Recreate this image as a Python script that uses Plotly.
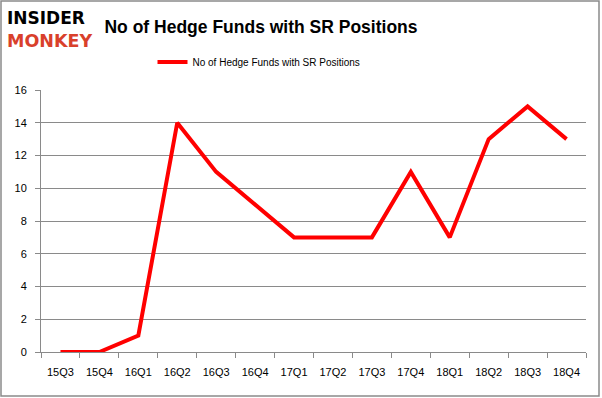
import plotly.graph_objects as go

quarters = ["15Q3", "15Q4", "16Q1", "16Q2", "16Q3", "16Q4", "17Q1", "17Q2",
            "17Q3", "17Q4", "18Q1", "18Q2", "18Q3", "18Q4"]
hedge_funds = [0, 0, 1, 14, 11, 9, 7, 7, 7, 11, 7, 13, 15, 13]
series_name = "No of Hedge Funds with SR Positions"
y_ticks = [0, 2, 4, 6, 8, 10, 12, 14, 16]

L, R, T, B = 41, 16, 90, 46
PW, PH = 602 - L - R, 398 - T - B


def px_x(x):
    return (x - L) / PW


def px_y(y):
    return (398 - B - y) / PH


fig = go.Figure()
fig.add_trace(go.Scatter(
    x=quarters, y=hedge_funds, mode="lines", name=series_name,
    line=dict(color="#ff0000", width=4), showlegend=True,
))

fig.update_layout(
    width=602, height=398,
    margin=dict(l=L, r=R, t=T, b=B, autoexpand=False),
    paper_bgcolor="white", plot_bgcolor="white",
    font=dict(family="Liberation Sans", size=11, color="black"),
    title=dict(text="<b>No of Hedge Funds with SR Positions</b>",
               x=px_x(261), xanchor="center", xref="paper",
               y=1 - 27 / 398, yanchor="middle",
               font=dict(family="Liberation Sans", size=17.5, color="black")),
    legend=dict(orientation="h", x=px_x(259), xanchor="center", y=px_y(62), yanchor="middle",
                font=dict(family="Liberation Sans", size=10), bgcolor="rgba(0,0,0,0)",
                itemwidth=30),
    showlegend=True,
    shapes=[dict(type="rect", xref="paper", yref="paper", x0=px_x(1), x1=px_x(599),
                 y0=px_y(396), y1=px_y(1), line=dict(color="#8a8a8a", width=1.5),
                 fillcolor="rgba(0,0,0,0)", layer="below")],
    annotations=[
        dict(text="<b>INSIDER</b>", x=px_x(5), xref="paper", y=px_y(18), yref="paper",
             xanchor="left", yanchor="middle", showarrow=False,
             font=dict(family="DejaVu Sans", size=17, color="black")),
        dict(text="<b>MONKEY</b>", x=px_x(5), xref="paper", y=px_y(41), yref="paper",
             xanchor="left", yanchor="middle", showarrow=False,
             font=dict(family="DejaVu Sans", size=17.5, color="#d9402b")),
    ],
)

fig.update_xaxes(
    type="category", showgrid=False, showline=True, linecolor="#8a8a8a", linewidth=1,
    ticks="outside", ticklen=5, tickcolor="#8a8a8a", tickson="boundaries",
    ticklabelstandoff=10,
    tickfont=dict(family="Liberation Sans", size=11), range=[-0.5, 13.5],
)
fig.update_yaxes(
    range=[0, 16], tickvals=y_ticks, showgrid=True, gridcolor="#8a8a8a", gridwidth=1,
    showline=True, linecolor="#8a8a8a", linewidth=1, ticks="outside", ticklen=5,
    tickcolor="#8a8a8a", ticklabelstandoff=6,
    tickfont=dict(family="Liberation Sans", size=11), zeroline=False,
)

fig.write_html("out.html", config={"displayModeBar": False},
               post_script="document.body.style.margin='0px';")
